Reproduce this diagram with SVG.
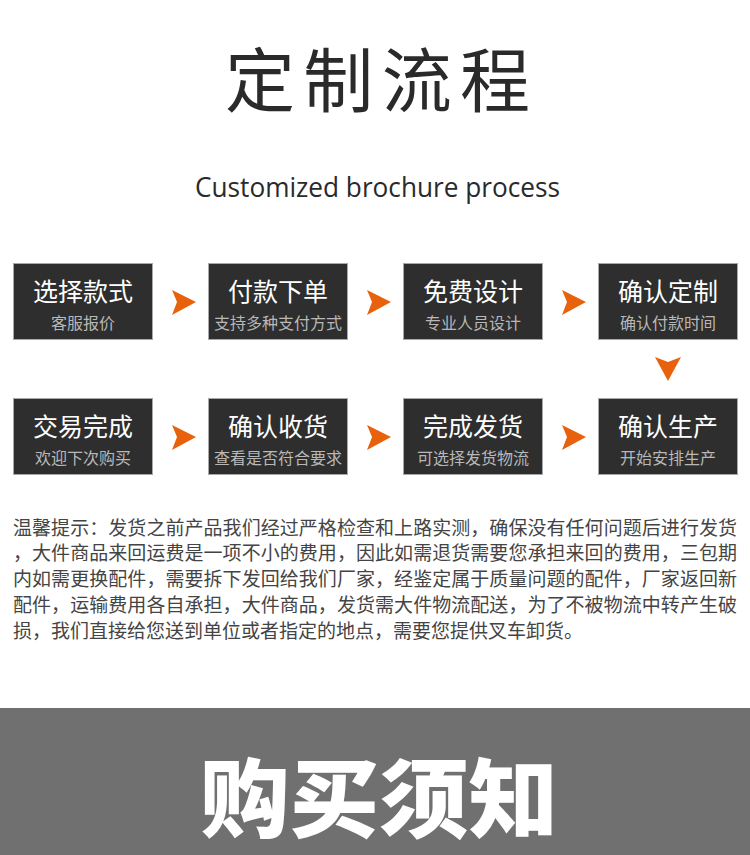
<svg xmlns="http://www.w3.org/2000/svg" width="750" height="855" viewBox="0 0 750 855">
<defs>
<style>
.cjk{font-family:"Noto Sans CJK SC","Noto Sans",sans-serif}
.box{fill:#2e2e2e;stroke:#a8a8a8;stroke-width:1}
.bt{fill:#ffffff;font-size:25px;text-anchor:middle}
.bs{fill:#b8b8b8;font-size:16px;text-anchor:middle}
.arr{fill:#e8620e}
.para{fill:#444444;font-size:19px}
</style>
</defs>
<rect x="0" y="0" width="750" height="855" fill="#ffffff"/>
<text class="cjk" x="225" y="107" font-size="70" fill="#2a2a2a" textLength="305" lengthAdjust="spacing">定制流程</text>
<text x="195" y="197" font-family="'Open Sans','Noto Sans',sans-serif" font-size="27" fill="#2a2a2a" textLength="365" lengthAdjust="spacingAndGlyphs">Customized brochure process</text>

<g id="n1"><rect class="box" x="13.5" y="263.5" width="139" height="76"/><text class="cjk bt" x="83" y="301">选择款式</text><text class="cjk bs" x="83" y="329">客服报价</text></g>
<g id="n2"><rect class="box" x="208.5" y="263.5" width="139" height="76"/><text class="cjk bt" x="278" y="301">付款下单</text><text class="cjk bs" x="278" y="329">支持多种支付方式</text></g>
<g id="n3"><rect class="box" x="403.5" y="263.5" width="139" height="76"/><text class="cjk bt" x="473" y="301">免费设计</text><text class="cjk bs" x="473" y="329">专业人员设计</text></g>
<g id="n4"><rect class="box" x="598.5" y="263.5" width="139" height="76"/><text class="cjk bt" x="668" y="301">确认定制</text><text class="cjk bs" x="668" y="329">确认付款时间</text></g>
<g id="n5"><rect class="box" x="598.5" y="398.5" width="139" height="76"/><text class="cjk bt" x="668" y="436">确认生产</text><text class="cjk bs" x="668" y="464">开始安排生产</text></g>
<g id="n6"><rect class="box" x="403.5" y="398.5" width="139" height="76"/><text class="cjk bt" x="473" y="436">完成发货</text><text class="cjk bs" x="473" y="464">可选择发货物流</text></g>
<g id="n7"><rect class="box" x="208.5" y="398.5" width="139" height="76"/><text class="cjk bt" x="278" y="436">确认收货</text><text class="cjk bs" x="278" y="464">查看是否符合要求</text></g>
<g id="n8"><rect class="box" x="13.5" y="398.5" width="139" height="76"/><text class="cjk bt" x="83" y="436">交易完成</text><text class="cjk bs" x="83" y="464">欢迎下次购买</text></g>

<g id="connectors">
<polygon class="arr" points="172,290 196,302 172,315 177,302"/>
<polygon class="arr" points="367,290 391,302 367,315 372,302"/>
<polygon class="arr" points="562,290 586,302 562,315 567,302"/>
<polygon class="arr" points="655,357 668,362 681,357 668,381"/>
<polygon class="arr" points="172,425 196,437 172,450 177,437"/>
<polygon class="arr" points="367,425 391,437 367,450 372,437"/>
<polygon class="arr" points="562,425 586,437 562,450 567,437"/>
</g>

<g id="notice" class="cjk para">
<text x="13" y="535" textLength="724" lengthAdjust="spacing">温馨提示：发货之前产品我们经过严格检查和上路实测，确保没有任何问题后进行发货</text>
<text x="13" y="560" textLength="724" lengthAdjust="spacing">，大件商品来回运费是一项不小的费用，因此如需退货需要您承担来回的费用，三包期</text>
<text x="13" y="586" textLength="724" lengthAdjust="spacing">内如需更换配件，需要拆下发回给我们厂家，经鉴定属于质量问题的配件，厂家返回新</text>
<text x="13" y="612" textLength="724" lengthAdjust="spacing">配件，运输费用各自承担，大件商品，发货需大件物流配送，为了不被物流中转产生破</text>
<text x="13" y="638">损，我们直接给您送到单位或者指定的地点，需要您提供叉车卸货。</text>
</g>

<rect x="0" y="708" width="750" height="147" fill="#707070"/>
<text class="cjk" x="200" y="831" font-size="86" font-weight="900" fill="#ffffff" textLength="358" lengthAdjust="spacingAndGlyphs">购买须知</text>
</svg>
